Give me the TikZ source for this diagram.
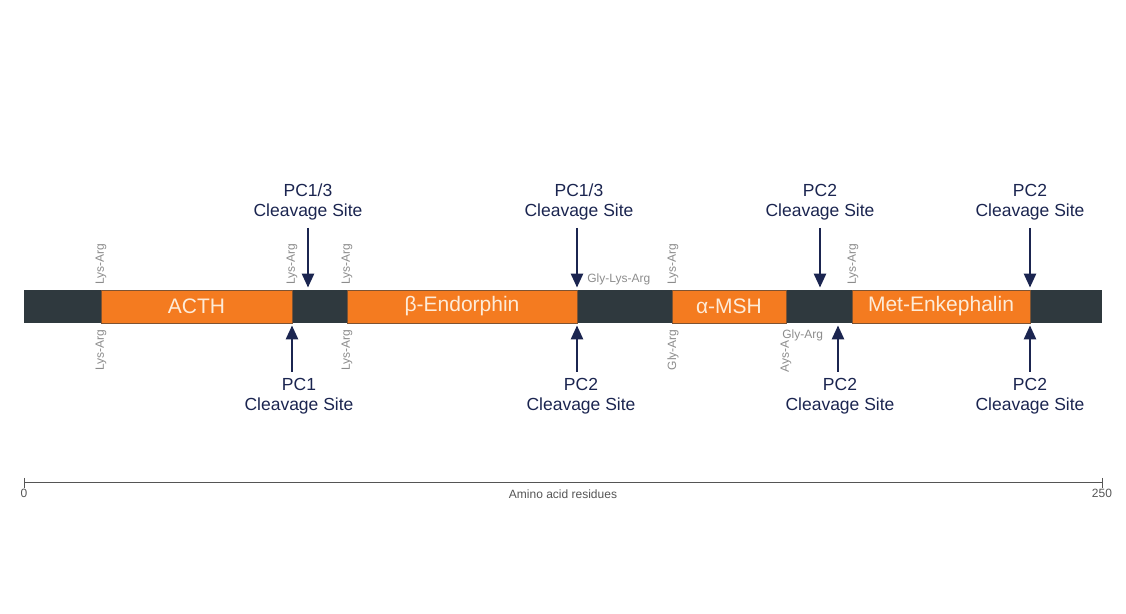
\documentclass[tikz,border=0pt]{standalone}
\usepackage{fontspec}
\setmainfont{Liberation Sans}
\usetikzlibrary{arrows.meta, positioning}
\definecolor{barDark}{HTML}{2F393E}
\definecolor{pepOrange}{HTML}{F47B20}
\definecolor{pepText}{HTML}{FDEBD8}
\definecolor{siteBlue}{HTML}{1B2550}
\definecolor{motifGray}{HTML}{8C8C8C}
\definecolor{axisGray}{HTML}{555555}
\tikzset{
    x=0.5pt, y=-0.5pt, % one unit is one pixel of the layout
    cleave/.style={-{Triangle[width=6pt,length=7pt]}, line width=1.3pt, draw=siteBlue}, % the enzyme arrows
    motif/.style={text=motifGray, inner sep=0pt, font=\fontsize{6}{7}\selectfont}, % the small dibasic motifs
    }

\begin{document}
\begin{tikzpicture}[barnode/.style={rectangle, fill=barDark, inner sep=0pt, minimum height=16.5pt}, pepnode/.style={rectangle, fill=pepOrange, draw=barDark!60!pepOrange, line width=0.4pt, inner sep=0pt, minimum height=16.5pt, text=pepText, font=\fontsize{10.5}{12}\selectfont}, sitelabel/.style={align=center, text=siteBlue, inner sep=0pt, font=\fontsize{8.75}{10}\selectfont}, axislabel/.style={text=axisGray, inner sep=0pt, font=\fontsize{6}{7}\selectfont}]
\useasboundingbox (0,0) rectangle (1126,614);

% precursor bar and the peptides cut out of it
\node[barnode, minimum width=539pt] (bar) at (563,306.5) {};
\node[pepnode, minimum width=95.5pt] (acth) at (196.5,306.5) {ACTH};
\node[pepnode, minimum width=115pt] (bend) at (462,306.5) {β-Endorphin};
\node[pepnode, minimum width=57pt] (msh) at (729,306.5) {α-MSH};
\node[pepnode, minimum width=89pt] (enk) at (941,306.5) {Met-Enkephalin};

% cleavage motifs
\node[motif, rotate=90, anchor=west] (m1) at (101,285) {Lys-Arg};
\node[motif, rotate=90, anchor=west] (m2) at (292,285) {Lys-Arg};
\node[motif, rotate=90, anchor=west] (m3) at (347,285) {Lys-Arg};
\node[motif, anchor=west] (m4) at (587,279) {Gly-Lys-Arg};
\node[motif, rotate=90, anchor=west] (m5) at (673,285) {Lys-Arg};
\node[motif, rotate=90, anchor=west] (m6) at (853,285) {Lys-Arg};
\node[motif, rotate=90, anchor=east] (m7) at (101,329) {Lys-Arg};
\node[motif, rotate=90, anchor=east] (m8) at (347,329) {Lys-Arg};
\node[motif, rotate=90, anchor=east] (m9) at (673,329) {Gly-Arg};
\node[motif, rotate=90, anchor=east] (m10) at (786,340) {Ays-A};
\node[motif, anchor=west] (m11) at (782,335) {Gly-Arg};

% enzyme labels above the bar
\node[sitelabel] (t1) at (308,202) {PC1/3\\Cleavage Site};
\node[sitelabel] (t2) at (579,202) {PC1/3\\Cleavage Site};
\node[sitelabel] (t3) at (820,202) {PC2\\Cleavage Site};
\node[sitelabel] (t4) at (1030,202) {PC2\\Cleavage Site};

% enzyme labels below the bar
\node[sitelabel] (u1) at (299,396) {PC1\\Cleavage Site};
\node[sitelabel] (u2) at (581,396) {PC2\\Cleavage Site};
\node[sitelabel] (u3) at (840,396) {PC2\\Cleavage Site};
\node[sitelabel] (u4) at (1030,396) {PC2\\Cleavage Site};

\coordinate (a1) at (308,228);
\coordinate (a2) at (577,228);
\coordinate (a3) at (820,228);
\coordinate (a4) at (1030,228);
\coordinate (b1) at (292,372);
\coordinate (b2) at (577,372);
\coordinate (b3) at (838,372);
\coordinate (b4) at (1030,372);

\draw[cleave, shorten >=1pt] (a1) -- (a1 |- bar.north);
\draw[cleave, shorten >=1pt] (a2) -- (a2 |- bar.north);
\draw[cleave, shorten >=1pt] (a3) -- (a3 |- bar.north);
\draw[cleave, shorten >=1pt] (a4) -- (a4 |- bar.north);
\draw[cleave, shorten >=1pt] (b1) -- (b1 |- bar.south);
\draw[cleave, shorten >=1pt] (b2) -- (b2 |- bar.south);
\draw[cleave, shorten >=1pt] (b3) -- (b3 |- bar.south);
\draw[cleave, shorten >=1pt] (b4) -- (b4 |- bar.south);

% residue scale
\coordinate (ax0) at (24,483);
\coordinate (ax250) at (1102,483);
\draw[axisGray, line width=0.5pt] (ax0) -- (ax250);
\draw[axisGray, line width=0.5pt] ([yshift=2.5pt]ax0) -- ([yshift=-2.5pt]ax0);
\draw[axisGray, line width=0.5pt] ([yshift=2.5pt]ax250) -- ([yshift=-2.5pt]ax250);
\node[axislabel, below=3pt of ax0] (l0) {0};
\node[axislabel, below=3pt of ax250] (l250) {250};
\node[axislabel] (lname) at (563,494.5) {Amino acid residues};
\end{tikzpicture}
\end{document}
